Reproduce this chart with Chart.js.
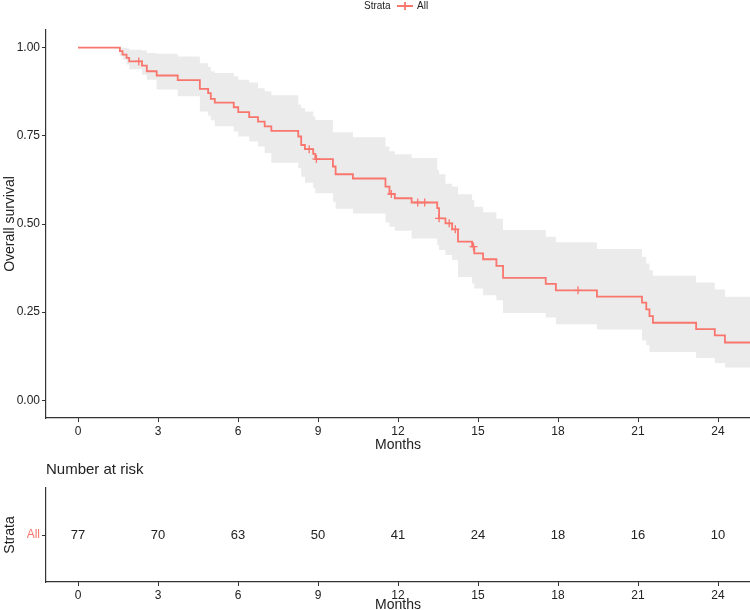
<!DOCTYPE html>
<html>
<head>
<meta charset="utf-8">
<script src="https://cdn.jsdelivr.net/npm/chart.js@4.4.1/dist/chart.umd.min.js"></script>
<style>
body{margin:0;background:#fff;}
#wrap{position:relative;width:750px;height:610px;}
#km{position:absolute;left:0;top:0;}
#risk{position:absolute;left:0;top:450px;}
</style>
</head>
<body>
<div id="wrap">
<canvas id="km" width="750" height="450"></canvas>
<canvas id="risk" width="750" height="160"></canvas>
</div>
<script>
// step times (months) and KM estimate
const times = [0, 1.57, 1.67, 1.82, 1.92, 2.40, 2.58, 2.95, 3.74, 4.57, 4.88, 4.98, 5.13, 5.84, 6.01, 6.42, 6.75, 7.00, 7.25,
  8.26, 8.37, 8.51, 8.82, 8.90, 9.56, 9.66, 10.31, 11.53, 11.68, 11.88, 12.51, 13.47, 13.54, 13.78, 14.03, 14.25, 14.78,
  14.86, 15.19, 15.69, 15.94, 17.54, 17.92, 19.46, 21.15, 21.31, 21.43, 21.56, 23.18, 23.88, 24.26, 25.2];
const survival = [1, 0.990, 0.980, 0.971, 0.961, 0.949, 0.933, 0.921, 0.908, 0.883, 0.871, 0.855, 0.844, 0.831, 0.817, 0.803, 0.790, 0.777, 0.764,
  0.748, 0.724, 0.712, 0.699, 0.684, 0.663, 0.641, 0.629, 0.606, 0.585, 0.573, 0.561, 0.545, 0.516, 0.502, 0.485, 0.450, 0.436,
  0.417, 0.400, 0.381, 0.347, 0.330, 0.312, 0.294, 0.277, 0.258, 0.239, 0.220, 0.202, 0.184, 0.164, 0.164];
const upper = [1, 1, 1, 0.998, 0.994, 0.992, 0.985, 0.983, 0.975, 0.956, 0.945, 0.933, 0.928, 0.919, 0.909, 0.901, 0.885, 0.876, 0.865,
  0.838, 0.829, 0.819, 0.805, 0.795, 0.760, 0.760, 0.746, 0.720, 0.706, 0.698, 0.687, 0.653, 0.641, 0.614, 0.606, 0.584, 0.568,
  0.549, 0.533, 0.515, 0.483, 0.464, 0.448, 0.429, 0.407, 0.388, 0.369, 0.353, 0.334, 0.314, 0.294, 0.294];
const lower = [1, 0.977, 0.966, 0.952, 0.939, 0.923, 0.909, 0.881, 0.862, 0.819, 0.807, 0.794, 0.777, 0.762, 0.748, 0.734, 0.720, 0.701, 0.674,
  0.658, 0.634, 0.617, 0.601, 0.587, 0.563, 0.543, 0.530, 0.504, 0.492, 0.481, 0.459, 0.440, 0.426, 0.412, 0.398, 0.350, 0.331,
  0.317, 0.298, 0.284, 0.248, 0.235, 0.216, 0.201, 0.170, 0.156, 0.137, 0.137, 0.120, 0.106, 0.093, 0.093];

// censored observations
const censorTimes = [2.28, 8.67, 8.94, 11.75, 12.74, 13.0, 13.54, 13.92, 14.15, 14.83, 18.75];
const censorSurv = [0.961, 0.712, 0.684, 0.585, 0.561, 0.561, 0.516, 0.502, 0.485, 0.436, 0.312];

// number at risk table
const riskTimes = [0, 3, 6, 9, 12, 15, 18, 21, 24];
const riskCounts = [77, 70, 63, 50, 41, 24, 18, 16, 10];

const xTicks = [0, 3, 6, 9, 12, 15, 18, 21, 24];
const yTicks = [0, 0.25, 0.5, 0.75, 1];

const red = '#F8766D';
const fam = "'Liberation Sans',Arial,sans-serif";
Chart.defaults.font.family = fam;

const pts = (xs, ys) => xs.map((x, i) => ({x: x, y: ys[i]}));

function xScale(h) {
  return {
    type: 'linear', min: -1.2, max: 25.2,
    afterBuildTicks: s => { s.ticks = xTicks.map(v => ({value: v})); },
    afterFit: s => { s.height = h; },
    grid: {drawOnChartArea: false, tickLength: 4, color: '#333', lineWidth: 1},
    border: {color: '#333', width: 1.2},
    ticks: {color: '#222', font: {size: 12}, padding: 2, maxRotation: 0},
    title: {display: true, text: 'Months', color: '#222', font: {size: 14}, padding: {top: -4, bottom: -4}}
  };
}

const legendPlugin = {
  id: 'stratLegend',
  afterDraw(chart) {
    const ctx = chart.ctx;
    ctx.save();
    ctx.font = '10px ' + fam;
    ctx.fillStyle = '#222';
    ctx.textBaseline = 'middle';
    ctx.fillText('Strata', 364, 6);
    ctx.fillText('All', 417, 6);
    ctx.strokeStyle = red;
    ctx.lineWidth = 1.8;
    ctx.beginPath();
    ctx.moveTo(397, 6); ctx.lineTo(413, 6);
    ctx.moveTo(405, 2); ctx.lineTo(405, 10);
    ctx.stroke();
    ctx.restore();
  }
};

new Chart(document.getElementById('km'), {
  type: 'line',
  data: {
    datasets: [
      {label: 'lower', data: pts(times, lower), stepped: 'before', borderWidth: 0, borderColor: 'transparent',
        pointRadius: 0, fill: false, order: 3},
      {label: 'upper', data: pts(times, upper), stepped: 'before', borderWidth: 0, borderColor: 'transparent',
        pointRadius: 0, fill: 0, backgroundColor: '#EBEBEB', order: 2},
      {label: 'All', data: pts(times, survival), stepped: 'before', borderColor: red, borderWidth: 1.8,
        pointRadius: 0, fill: false, order: 1},
      {label: 'censor', data: pts(censorTimes, censorSurv), showLine: false, pointStyle: 'cross',
        pointRadius: 4, borderColor: red, backgroundColor: red, borderWidth: 1.3, order: 0}
    ]
  },
  options: {
    responsive: false, animation: false, events: [],
    layout: {autoPadding: false, padding: {top: 30, right: 0, left: 0, bottom: 0}},
    plugins: {legend: {display: false}, tooltip: {enabled: false}},
    scales: {
      x: xScale(32),
      y: {
        type: 'linear', min: -0.05, max: 1.05,
        afterBuildTicks: s => { s.ticks = yTicks.map(v => ({value: v})); },
        afterFit: s => { s.width = 46; },
        grid: {drawOnChartArea: false, tickLength: 4, color: '#333'},
        border: {color: '#333', width: 1.2},
        ticks: {color: '#222', font: {size: 12}, padding: 2, callback: v => v.toFixed(2)},
        title: {display: true, text: 'Overall survival', color: '#222', font: {size: 14}, padding: {top: 2, bottom: 2}}
      }
    }
  },
  plugins: [legendPlugin]
});

const riskText = {
  id: 'riskText',
  afterDatasetsDraw(chart) {
    const ctx = chart.ctx;
    const meta = chart.getDatasetMeta(0);
    ctx.save();
    ctx.fillStyle = '#222';
    ctx.font = '13px ' + fam;
    ctx.textAlign = 'center';
    ctx.textBaseline = 'middle';
    meta.data.forEach((el, i) => ctx.fillText(String(riskCounts[i]), el.x, el.y));
    ctx.textAlign = 'left';
    ctx.font = '15px ' + fam;
    ctx.fillText('Number at risk', chart.scales.x.left, 20);
    ctx.restore();
  }
};

new Chart(document.getElementById('risk'), {
  type: 'scatter',
  data: {datasets: [{label: 'risk', data: pts(riskTimes, riskTimes.map(() => 1)), pointRadius: 0}]},
  options: {
    responsive: false, animation: false, events: [],
    layout: {autoPadding: false, padding: {top: 38, right: 0, left: 0, bottom: 0}},
    plugins: {legend: {display: false}, tooltip: {enabled: false}},
    scales: {
      x: xScale(28),
      y: {
        type: 'linear', min: 0, max: 2,
        afterBuildTicks: s => { s.ticks = [{value: 1}]; },
        afterFit: s => { s.width = 46; },
        grid: {drawOnChartArea: false, tickLength: 4, color: '#333'},
        border: {color: '#333', width: 1.2},
        ticks: {color: red, font: {size: 12}, padding: 2, callback: () => 'All'},
        title: {display: true, text: 'Strata', color: '#222', font: {size: 14}, padding: {top: 2, bottom: 2}}
      }
    }
  },
  plugins: [riskText]
});
</script>
</body>
</html>
